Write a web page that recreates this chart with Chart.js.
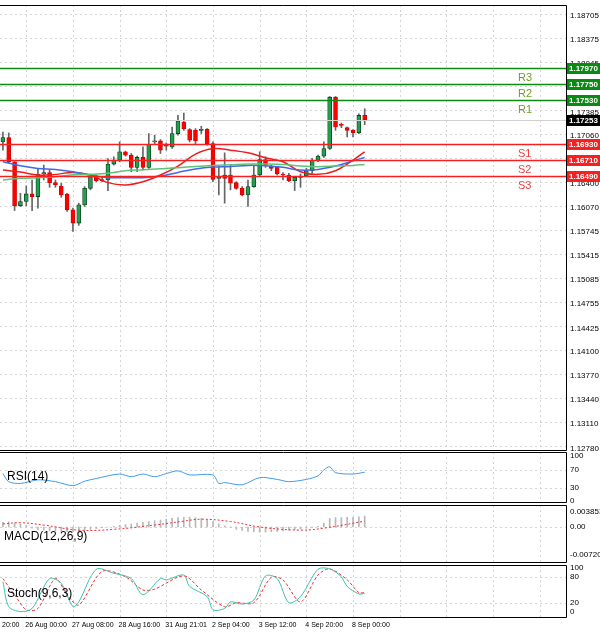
<!DOCTYPE html>
<html>
<head>
<meta charset="utf-8">
<script src="https://cdn.jsdelivr.net/npm/chart.js@4/dist/chart.umd.min.js"></script>
<style>
  body { margin: 0; background: #fff; }
  #wrap { position: relative; width: 600px; height: 632px; overflow: hidden; background: #fff; }
  canvas { position: absolute; left: 0; }
</style>
</head>
<body>
<div id="wrap">
  <canvas id="cMain" width="600" height="452" style="top:0"></canvas>
  <canvas id="cRsi" width="600" height="54" style="top:450px"></canvas>
  <canvas id="cMacd" width="600" height="61" style="top:503px"></canvas>
  <canvas id="cStoch" width="600" height="69" style="top:563px"></canvas>
</div>
<script>
// --- datos del gráfico ---
const nSlots = 97;
const opens  = [1.16952,1.17011,1.16680,1.16076,1.16135,1.16239,1.16203,1.16512,1.16530,1.16394,1.16348,1.16235,1.16021,1.15840,1.16089,1.16316,1.16475,1.16430,1.16430,1.16648,1.16702,1.16816,1.16770,1.16603,1.16739,1.16603,1.16952,1.16966,1.16916,1.16884,1.17066,1.17224,1.17120,1.17111,1.17111,1.17125,1.16929,1.16453,1.16498,1.16498,1.16394,1.16316,1.16226,1.16339,1.16498,1.16711,1.16621,1.16603,1.16512,1.16498,1.16421,1.16466,1.16484,1.16557,1.16702,1.16757,1.16861,1.17565,1.17188,1.17147,1.17111,1.17079,1.17315];
const closes = [1.17011,1.16680,1.16076,1.16135,1.16239,1.16203,1.16512,1.16530,1.16394,1.16362,1.16226,1.16021,1.15840,1.16089,1.16316,1.16475,1.16421,1.16421,1.16648,1.16702,1.16816,1.16770,1.16603,1.16739,1.16603,1.16920,1.16966,1.16839,1.16893,1.17066,1.17238,1.17134,1.16975,1.16966,1.17125,1.16929,1.16439,1.16462,1.16453,1.16385,1.16316,1.16226,1.16339,1.16498,1.16711,1.16634,1.16589,1.16512,1.16498,1.16421,1.16466,1.16484,1.16557,1.16702,1.16757,1.16861,1.17565,1.17156,1.17179,1.17111,1.17079,1.17315,1.17253];
const highs  = [1.17088,1.17075,1.16680,1.16248,1.16348,1.16430,1.16589,1.16634,1.16566,1.16430,1.16385,1.16248,1.16044,1.16112,1.16339,1.16498,1.16498,1.16475,1.16725,1.16748,1.16952,1.16825,1.16793,1.16757,1.16884,1.17066,1.17043,1.16984,1.16938,1.17156,1.17315,1.17347,1.17134,1.17134,1.17165,1.17134,1.16952,1.16612,1.16802,1.16634,1.16407,1.16339,1.16430,1.16634,1.16816,1.16748,1.16634,1.16612,1.16530,1.16521,1.16475,1.16512,1.16589,1.16725,1.16770,1.16952,1.17574,1.17574,1.17211,1.17156,1.17120,1.17338,1.17406];
const lows   = [1.16839,1.16660,1.16012,1.16067,1.16076,1.16008,1.16044,1.16430,1.16330,1.16330,1.16194,1.15999,1.15726,1.15808,1.16067,1.16294,1.16407,1.16407,1.16285,1.16634,1.16680,1.16757,1.16543,1.16543,1.16566,1.16589,1.16929,1.16793,1.16839,1.16861,1.17043,1.17111,1.16952,1.16929,1.17066,1.16907,1.16407,1.16226,1.16112,1.16294,1.16303,1.16212,1.16067,1.16330,1.16475,1.16603,1.16557,1.16498,1.16430,1.16407,1.16285,1.16330,1.16475,1.16521,1.16680,1.16739,1.16848,1.17111,1.17147,1.17020,1.17020,1.17066,1.17188];

const maIdx   = [0,3,6,9,12,15,18,21,24,27,30,33,36,39,42,45,48,51,54,57,60,62];
const maRed   = [1.16566,1.16539,1.16498,1.16507,1.16534,1.16498,1.16394,1.16362,1.16407,1.16498,1.16621,1.16784,1.16861,1.16839,1.16802,1.16734,1.16680,1.16543,1.16507,1.16557,1.16702,1.16816];
const maBlue  = [1.16680,1.16625,1.16589,1.16575,1.16543,1.16498,1.16462,1.16462,1.16462,1.16484,1.16534,1.16580,1.16607,1.16616,1.16630,1.16625,1.16603,1.16566,1.16575,1.16621,1.16693,1.16739];
const maGreen = [1.16430,1.16453,1.16462,1.16475,1.16503,1.16507,1.16521,1.16557,1.16571,1.16584,1.16598,1.16616,1.16630,1.16639,1.16648,1.16648,1.16643,1.16621,1.16612,1.16621,1.16630,1.16643];

const resist = [1.17970, 1.17750, 1.17530];
const resistNames = ['R3','R2','R1'];
const support = [1.16930, 1.16710, 1.16490];
const supportNames = ['S1','S2','S3'];
const lastPrice = 1.17253;

const priceTicks = [1.18705,1.18375,1.18045,1.17715,1.17385,1.17060,1.16730,1.16400,1.16070,1.15745,1.15415,1.15085,1.14755,1.14425,1.14100,1.13770,1.13440,1.13110,1.12780];

const rsiIdx = [0,1,3,6,9,12,14,16,20,22,24,26,28,30,32,36,37,38,41,44,47,49,52,54,55,56,57,60,62];
const rsiVal = [61,43,39,47,43,34,44,50,60,54,60,54,61,67,58,58,39,41,36,52,48,43,48,56,69,76,63,60,64];
const rsiTicks = [100,70,30,0];

const macdHist = [0.0012,0.0013,0.0010,0.0007,0.0004,-0.0003,-0.0006,-0.0008,-0.0010,-0.0010,-0.0011,-0.0012,-0.0011,-0.0010,-0.0008,-0.0006,-0.0004,-0.0002,0,0.0002,0.0004,0.0006,0.0008,0.0010,0.0012,0.0014,0.0016,0.0018,0.0020,0.0022,0.0024,0.0025,0.0025,0.0024,0.0022,0.0018,0.0014,0.0008,0.0003,-0.0002,-0.0006,-0.0009,-0.0011,-0.0012,-0.0013,-0.0013,-0.0012,-0.0011,-0.0010,-0.0008,-0.0007,-0.0005,-0.0003,-0.0001,0.0002,0.0010,0.0022,0.0024,0.0024,0.0025,0.0025,0.0026,0.0028];
const macdSigIdx = [0,3,7,13,19,26,31,34,39,44,51,55,62];
const macdSig = [0.0008,0.0011,0.0005,-0.0008,-0.0006,0.0005,0.0015,0.0020,0.0014,0,-0.0008,-0.0003,0.0015];
const macdTicks = [0.003853, 0, -0.007208];
const macdTickText = ['0.003853','0.00','-0.007208'];

const stochMainIdx = [0,1,3,5,8,10,12,13,16,19,22,24,27,28,31,32,35,36,38,39,41,43,45,47,49,51,54,56,58,59,61,62];
const stochMain = [69,12,1,8,76,65,12,23,97,88,76,39,76,73,84,58,35,5,8,23,18,27,82,76,21,35,97,98,80,58,41,42];
const stochSigIdx = [0,2,4,6,9,11,13,17,21,24,26,31,34,38,40,43,46,48,51,54,56,59,61,62];
const stochSig = [76,39,5,8,76,39,16,92,80,50,52,82,50,12,21,21,79,73,23,84,98,73,44,44];
const stochTicks = [100,80,20,0];

const xLabelIdx = [0,4,12,20,28,36,44,52,60];
const xLabelText = ['20:00','26 Aug 00:00','27 Aug 08:00','28 Aug 16:00','31 Aug 21:01','2 Sep 04:00','3 Sep 12:00','4 Sep 20:00','8 Sep 00:00'];
const gridIdx = [4,12,20,28,36,44,52,60,68,76,84,92];

// --- utilidades ---
const FONT = '"Liberation Sans", Arial, sans-serif';
const labels = Array.from({ length: nSlots }, (_, i) => i);
const sparse = (idx, vals) => { const a = new Array(nSlots).fill(null); idx.forEach((k, j) => a[k] = vals[j]); return a; };
const xScale = { type: 'category', offset: true, display: false };
const baseOpts = (pad, y) => ({
    responsive: false, animation: false, devicePixelRatio: 1,
    layout: { padding: { top: pad[0], bottom: pad[1], right: 34, left: 0 } },
    plugins: { legend: { display: false }, tooltip: { enabled: false } },
    scales: { x: xScale, y: Object.assign({ display: false }, y) }
});

// dibuja rejilla, marco y etiquetas del eje derecho
function panelPlugin(cfg) {
    return {
        id: 'panel',
        beforeDatasetsDraw(chart) {
            const { ctx, chartArea: a, scales } = chart;
            ctx.save();
            ctx.strokeStyle = '#d4d4d4'; ctx.lineWidth = 1; ctx.setLineDash([2, 3]);
            (cfg.grid || []).forEach(v => {
                const y = Math.round(scales.y.getPixelForValue(v)) + 0.5;
                ctx.beginPath(); ctx.moveTo(a.left, y); ctx.lineTo(a.right, y); ctx.stroke();
            });
            gridIdx.forEach(i => {
                const x = Math.round(scales.x.getPixelForValue(i)) + 0.5;
                ctx.beginPath(); ctx.moveTo(x, a.top); ctx.lineTo(x, a.bottom); ctx.stroke();
            });
            ctx.restore();
        },
        afterDatasetsDraw(chart) {
            const { ctx, chartArea: a, scales } = chart;
            ctx.save();
            ctx.strokeStyle = '#000'; ctx.lineWidth = 1; ctx.setLineDash([]);
            ctx.beginPath();
            ctx.moveTo(a.left, a.top + 0.5); ctx.lineTo(a.right + 0.5, a.top + 0.5);
            ctx.lineTo(a.right + 0.5, a.bottom + 0.5); ctx.lineTo(a.left, a.bottom + 0.5);
            ctx.stroke();
            ctx.fillStyle = '#000'; ctx.font = '8px ' + FONT; ctx.textBaseline = 'middle'; ctx.textAlign = 'left';
            (cfg.ticks || []).forEach((v, j) => {
                const y = scales.y.getPixelForValue(v);
                ctx.fillText(cfg.tickText ? cfg.tickText[j] : String(v), a.right + 4, y + (cfg.tickShift || 0));
            });
            if (cfg.after) cfg.after(chart);
            if (cfg.title) {
                ctx.font = '12px ' + FONT; ctx.fillStyle = '#000'; ctx.textAlign = 'left'; ctx.textBaseline = 'middle';
                ctx.fillText(cfg.title, cfg.titleX, a.top + cfg.titleY);
            }
            ctx.restore();
        }
    };
}

function priceBox(ctx, a, y, text, bg, fg) {
    ctx.fillStyle = bg; ctx.fillRect(a.right + 1, y - 5.5, 33, 11);
    ctx.fillStyle = fg; ctx.font = 'bold 8px ' + FONT; ctx.textAlign = 'left'; ctx.textBaseline = 'middle';
    ctx.fillText(text, a.right + 3, y);
}

// --- gráfico principal (velas) ---
const upBody = '#22a050';
new Chart(document.getElementById('cMain'), {
    type: 'bar',
    data: {
        labels,
        datasets: [
            { type: 'line', data: sparse(maIdx, maGreen), borderColor: '#5fc27a', borderWidth: 1.5, pointRadius: 0, spanGaps: true, tension: 0.4 },
            { type: 'line', data: sparse(maIdx, maBlue), borderColor: '#4468e6', borderWidth: 1.5, pointRadius: 0, spanGaps: true, tension: 0.4 },
            { type: 'line', data: sparse(maIdx, maRed), borderColor: '#f01c1c', borderWidth: 1.5, pointRadius: 0, spanGaps: true, tension: 0.4 },
            { data: lows.map((l, i) => [l, highs[i]]), backgroundColor: '#666', barThickness: 1, grouped: false, order: 2 },
            { data: opens.map((o, i) => [o, closes[i]]), grouped: false, barThickness: 4, minBarLength: 1,
              backgroundColor: opens.map((o, i) => closes[i] >= o ? upBody : '#ff0000'),
              borderColor: opens.map((o, i) => closes[i] >= o ? '#0c3d1c' : '#d00000'),
              borderWidth: 0.8, borderSkipped: false, order: 1 }
        ]
    },
    options: baseOpts([5, 2], { min: 1.12730, max: 1.18828 }),
    plugins: [panelPlugin({
        grid: priceTicks, ticks: priceTicks, tickText: priceTicks.map(v => v.toFixed(5)), tickShift: 2,
        after(chart) {
            const { ctx, chartArea: a, scales } = chart;
            const yp = v => Math.round(scales.y.getPixelForValue(v)) + 0.5;
            ctx.lineWidth = 1;
            ctx.strokeStyle = '#d0d0d0';
            ctx.beginPath(); ctx.moveTo(a.left, yp(lastPrice)); ctx.lineTo(a.right, yp(lastPrice)); ctx.stroke();
            ctx.lineWidth = 1.6;
            resist.forEach(v => { ctx.strokeStyle = '#0b8a12'; ctx.beginPath(); ctx.moveTo(a.left, yp(v)); ctx.lineTo(a.right, yp(v)); ctx.stroke(); });
            support.forEach(v => { ctx.strokeStyle = '#f52020'; ctx.beginPath(); ctx.moveTo(a.left, yp(v)); ctx.lineTo(a.right, yp(v)); ctx.stroke(); });
            ctx.font = '11px ' + FONT; ctx.textAlign = 'left'; ctx.textBaseline = 'top';
            resist.forEach((v, j) => { ctx.fillStyle = '#6f9e2e'; ctx.fillText(resistNames[j], 518, yp(v) + 4); });
            support.forEach((v, j) => { ctx.fillStyle = '#f04040'; ctx.fillText(supportNames[j], 518, yp(v) + 4); });
            // cajas de precio
            resist.forEach(v => priceBox(ctx, a, yp(v), v.toFixed(5), '#0b8a12', '#fff'));
            support.forEach(v => priceBox(ctx, a, yp(v), v.toFixed(5), '#f52020', '#fff'));
            priceBox(ctx, a, yp(lastPrice), lastPrice.toFixed(5), '#000', '#fff');
        }
    })]
});

// --- RSI ---
new Chart(document.getElementById('cRsi'), {
    type: 'line',
    data: { labels, datasets: [{ data: sparse(rsiIdx, rsiVal), borderColor: '#3d9cf0', borderWidth: 1, pointRadius: 0, spanGaps: true, tension: 0.3 }] },
    options: baseOpts([2, 2], { min: -2.2, max: 108.9 }),
    plugins: [panelPlugin({ grid: [70, 30], ticks: rsiTicks, title: 'RSI(14)', titleX: 7, titleY: 25 })]
});

// --- MACD ---
new Chart(document.getElementById('cMacd'), {
    type: 'bar',
    data: { labels, datasets: [
        { type: 'line', data: sparse(macdSigIdx, macdSig), borderColor: '#f03030', borderWidth: 1, borderDash: [2, 2], pointRadius: 0, spanGaps: true, tension: 0.4 },
        { data: macdHist, backgroundColor: '#b8b8b8', barThickness: 1 }
    ] },
    options: baseOpts([2, 2], { min: -0.00897, max: 0.00564 }),
    plugins: [panelPlugin({ grid: [0], ticks: macdTicks, tickText: macdTickText, title: 'MACD(12,26,9)', titleX: 4, titleY: 32 })]
});

// --- Estocástico + etiquetas del eje X ---
new Chart(document.getElementById('cStoch'), {
    type: 'line',
    data: { labels, datasets: [
        { data: sparse(stochMainIdx, stochMain), borderColor: '#3fbfae', borderWidth: 1, pointRadius: 0, spanGaps: true, tension: 0.3 },
        { data: sparse(stochSigIdx, stochSig), borderColor: '#f03030', borderWidth: 1, borderDash: [3, 2], pointRadius: 0, spanGaps: true, tension: 0.3 }
    ] },
    options: baseOpts([2, 15], { min: -11.4, max: 106.8 }),
    plugins: [panelPlugin({
        grid: [80, 20], ticks: stochTicks, title: 'Stoch(9,6,3)', titleX: 7, titleY: 29,
        after(chart) {
            const { ctx, chartArea: a, scales } = chart;
            ctx.fillStyle = '#000'; ctx.font = '7px ' + FONT; ctx.textAlign = 'left'; ctx.textBaseline = 'middle';
            xLabelIdx.forEach((i, j) => {
                const x = scales.x.getPixelForValue(i);
                ctx.fillText(xLabelText[j], Math.max(x - 1, 2), a.bottom + 8);
            });
        }
    })]
});
</script>
</body>
</html>
